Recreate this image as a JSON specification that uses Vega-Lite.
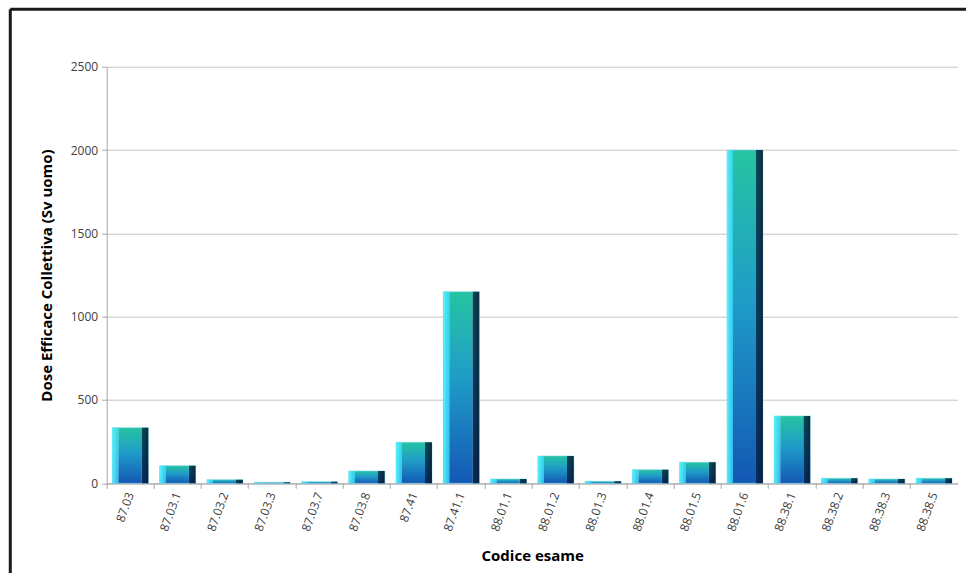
{
  "$schema": "https://vega.github.io/schema/vega-lite/v6.json",
  "autosize": "none",
  "width": 851,
  "height": 416.6,
  "padding": {"left": 106.7, "top": 66.7, "right": 8.3, "bottom": 89.7},
  "background": "#ffffff",
  "config": {
    "view": {"stroke": null},
    "font": "Open Sans"
  },
  "data": {
    "values": [
      {"codice": "87.03", "dose": 334},
      {"codice": "87.03.1", "dose": 106},
      {"codice": "87.03.2", "dose": 22},
      {"codice": "87.03.3", "dose": 6},
      {"codice": "87.03.7", "dose": 10},
      {"codice": "87.03.8", "dose": 74},
      {"codice": "87.41", "dose": 246},
      {"codice": "87.41.1", "dose": 1150},
      {"codice": "88.01.1", "dose": 26},
      {"codice": "88.01.2", "dose": 164},
      {"codice": "88.01.3", "dose": 12},
      {"codice": "88.01.4", "dose": 82},
      {"codice": "88.01.5", "dose": 126},
      {"codice": "88.01.6", "dose": 2000},
      {"codice": "88.38.1", "dose": 404},
      {"codice": "88.38.2", "dose": 30},
      {"codice": "88.38.3", "dose": 26},
      {"codice": "88.38.5", "dose": 30}
    ]
  },
  "layer": [
    {
      "layer": [
        {
          "mark": {
            "type": "bar",
            "width": {"band": 0.76},
            "fill": {
              "gradient": "linear",
              "x1": 0, "y1": 0, "x2": 0, "y2": 1,
              "stops": [
                {"offset": 0, "color": "#26c4a2"},
                {"offset": 0.45, "color": "#1f9cc8"},
                {"offset": 1, "color": "#1358b4"}
              ]
            },
            "stroke": "#7fd8ee",
            "strokeWidth": 0.6
          },
          "encoding": {
            "x": {
              "field": "codice",
              "type": "nominal",
              "sort": null,
              "scale": {"paddingInner": 0, "paddingOuter": 0},
              "axis": {
                "title": "Codice esame",
                "titleFont": "Open Sans",
                "titleFontSize": 15,
                "titleFontWeight": "bold",
                "titleColor": "#000000",
                "titlePadding": 16,
                "labelAngle": -70,
                "labelFont": "Open Sans",
                "labelFontSize": 12,
                "labelColor": "#404040",
                "labelPadding": 4,
                "bandPosition": 0,
                "tickSize": 5,
                "tickColor": "#a6a6a6",
                "domainColor": "#a6a6a6",
                "grid": false
              }
            },
            "y": {
              "field": "dose",
              "type": "quantitative",
              "scale": {"domain": [0, 2500], "nice": false},
              "axis": {
                "title": "Dose Efficace Collettiva (Sv uomo)",
                "titleFont": "Open Sans",
                "titleFontSize": 15,
                "titleFontWeight": "bold",
                "titleColor": "#000000",
                "titlePadding": 16,
                "values": [0, 500, 1000, 1500, 2000, 2500],
                "format": "d",
                "labelFont": "Open Sans",
                "labelFontSize": 12,
                "labelColor": "#404040",
                "labelPadding": 4,
                "tickSize": 5,
                "tickColor": "#a6a6a6",
                "domainColor": "#a6a6a6",
                "gridColor": "#c4c4c4",
                "gridWidth": 1
              }
            }
          }
        },
        {
          "mark": {
            "type": "bar",
            "width": {"band": 0.76},
            "fill": {
              "gradient": "linear",
              "x1": 0, "y1": 0, "x2": 1, "y2": 0,
              "stops": [
                {"offset": 0, "color": "rgba(90,245,255,0.95)"},
                {"offset": 0.16, "color": "rgba(60,220,250,0.75)"},
                {"offset": 0.18, "color": "rgba(255,255,255,0)"},
                {"offset": 0.8, "color": "rgba(255,255,255,0)"},
                {"offset": 0.82, "color": "rgba(4,30,60,0.75)"},
                {"offset": 1, "color": "rgba(2,20,45,0.85)"}
              ]
            }
          },
          "encoding": {
            "x": {"field": "codice", "type": "nominal", "sort": null},
            "y": {"field": "dose", "type": "quantitative"}
          }
        }
      ]
    },
    {
      "data": {"values": [{}]},
      "layer": [
        {
          "mark": {"type": "rule", "stroke": "#1a1a1a", "strokeWidth": 3, "clip": false},
          "encoding": {
            "x": {"datum": -11.33, "type": "quantitative", "scale": {"domain": [0, 100], "nice": false, "zero": false}, "axis": null},
            "x2": {"datum": 105},
            "y": {"datum": 113.8, "type": "quantitative", "scale": {"domain": [0, 100], "nice": false, "zero": false}, "axis": null}
          }
        },
        {
          "mark": {"type": "rule", "stroke": "#1a1a1a", "strokeWidth": 3, "clip": false},
          "encoding": {
            "x": {"datum": -11.33, "type": "quantitative", "axis": null},
            "y": {"datum": 113.8, "type": "quantitative", "axis": null},
            "y2": {"datum": -25}
          }
        }
      ]
    }
  ],
  "resolve": {"scale": {"x": "independent", "y": "independent"}, "axis": {"x": "independent", "y": "independent"}}
}
